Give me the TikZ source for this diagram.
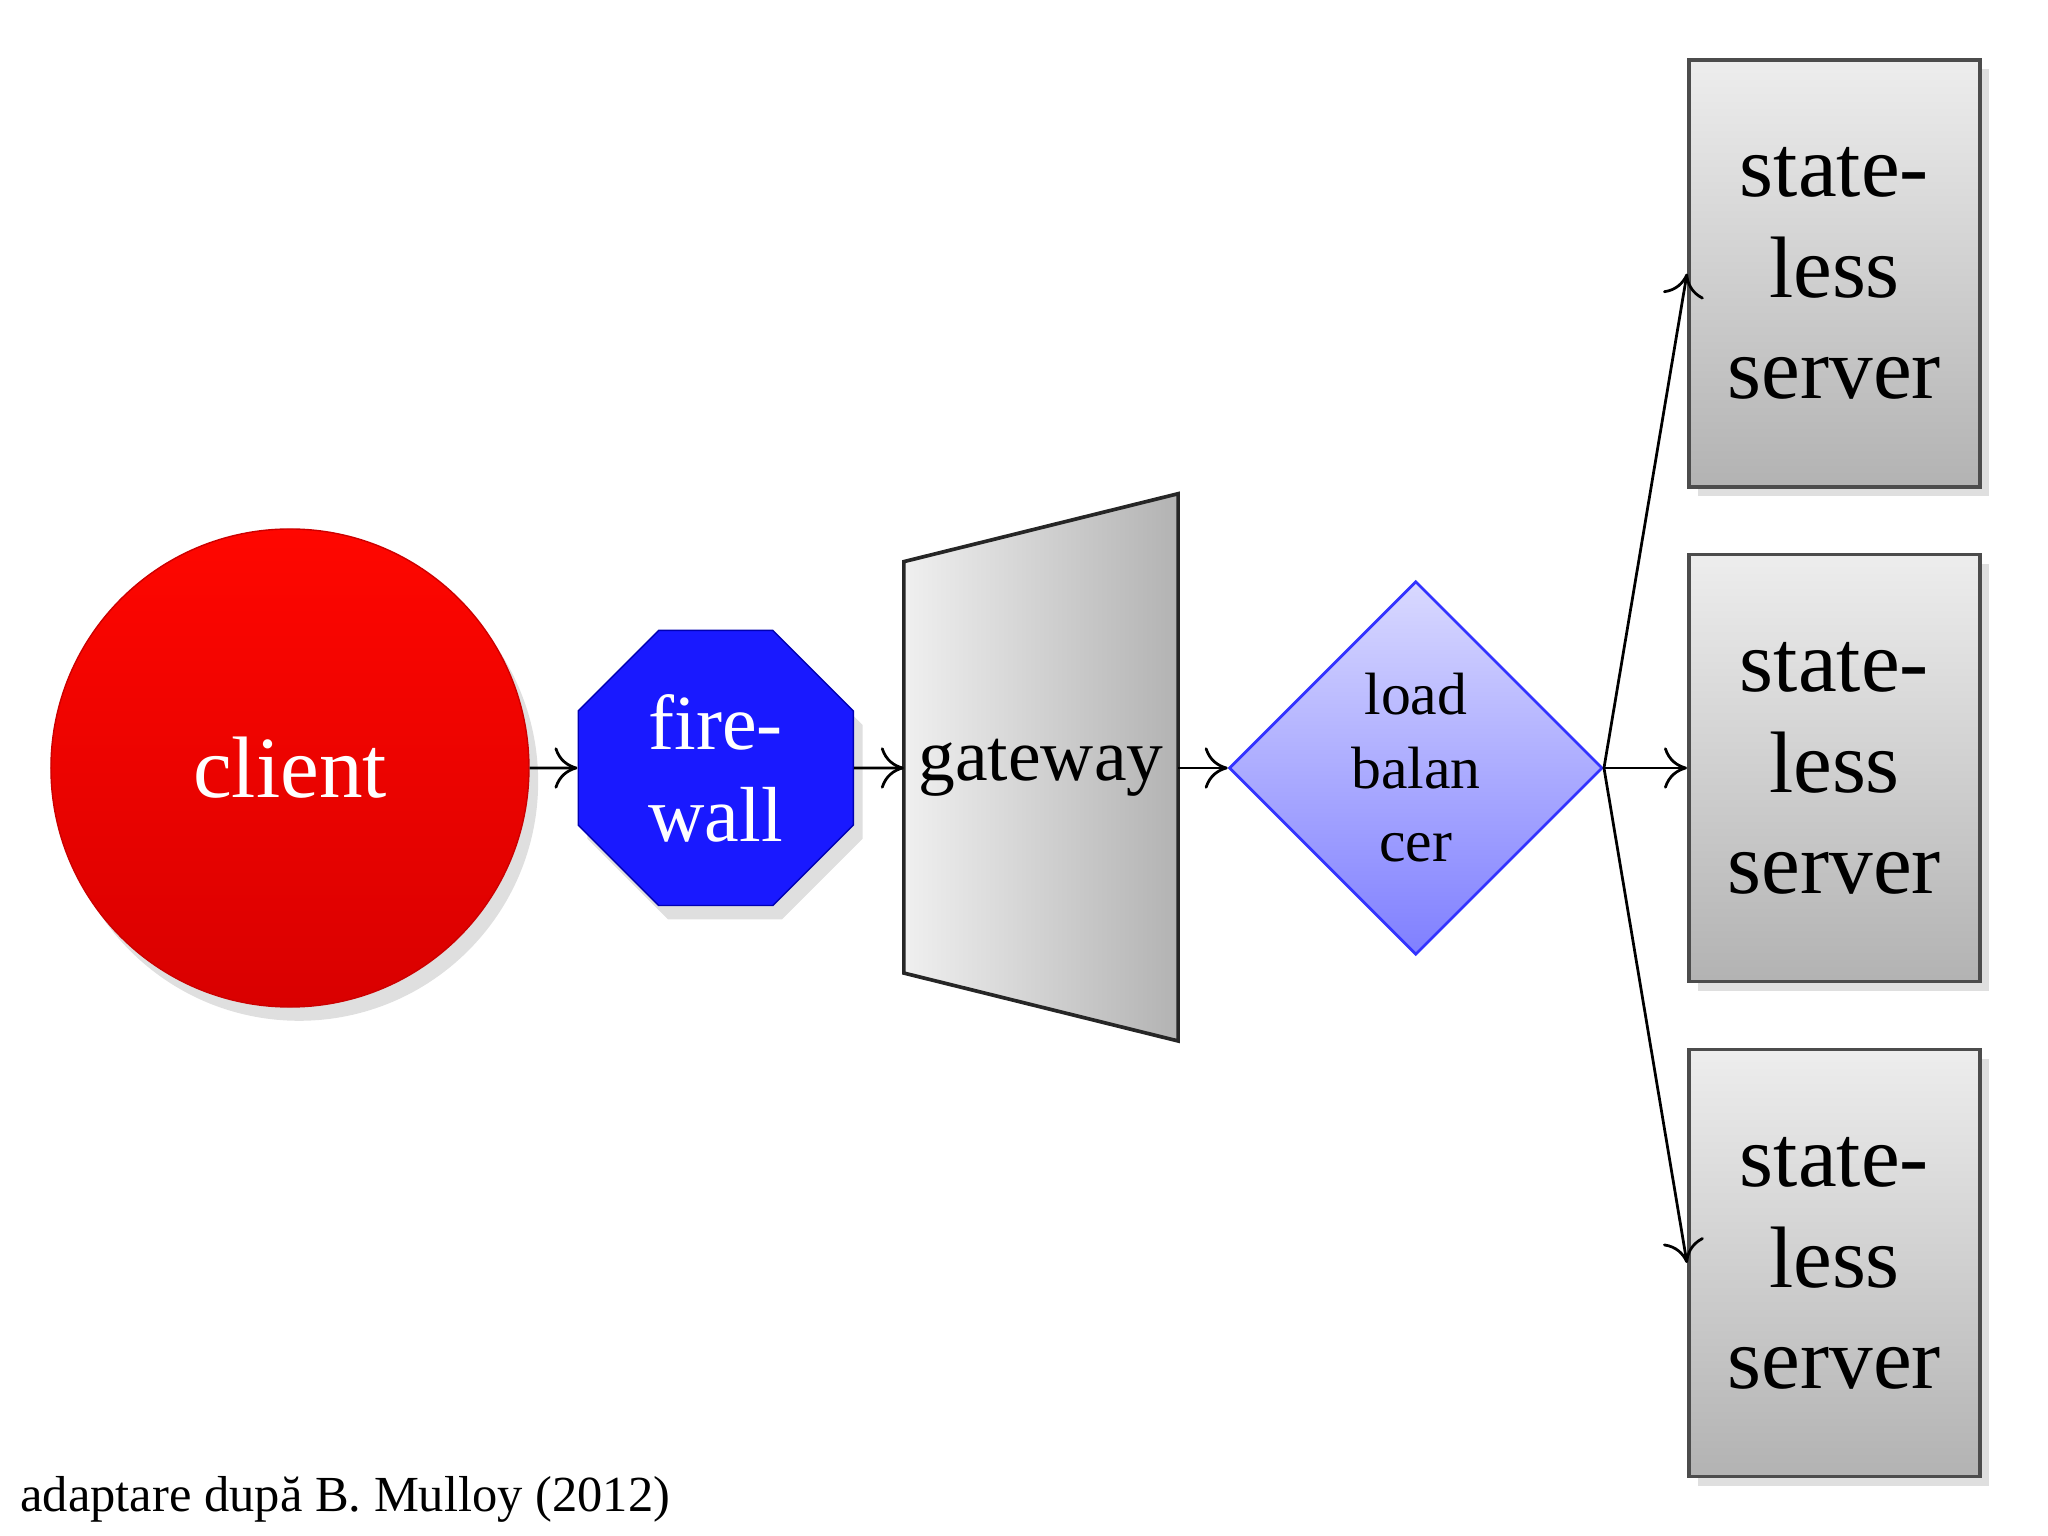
\documentclass[tikz,border=0pt]{standalone}
\usepackage{fontspec}
\setmainfont{Liberation Serif}
\usetikzlibrary{shapes.geometric,arrows.meta,shadows}
\begin{document}
\begin{tikzpicture}[x=0.01cm,y=-0.01cm,
  arr/.style={-{To[length=5pt,width=9pt]},line width=0.6pt},
  server/.style={draw=black!70,line width=0.8pt,top color=black!7,bottom color=black!30,
     minimum width=223*0.01cm,minimum height=327*0.01cm,inner sep=0pt,align=center,
     font=\fontsize{19}{22}\selectfont,drop shadow={opacity=0.25,shadow xshift=2pt,shadow yshift=-2pt}}]
\useasboundingbox (0,0) rectangle (1568,1176);
\node[circle,minimum size=366*0.01cm,top color=red!95!orange,bottom color=red!85!black,
  draw=red!80!black,line width=0.3pt,text=white,font=\fontsize{19}{22}\selectfont,
  drop shadow={opacity=0.25,shadow xshift=2pt,shadow yshift=-3pt}] (client) at (222,588) {client};
\node[regular polygon,regular polygon sides=8,minimum size=228*0.01cm,inner sep=0pt,
  fill=blue!90!white,draw=blue!70!black,line width=0.3pt,text=white,align=center,
  font=\fontsize{17}{20}\selectfont,
  drop shadow={opacity=0.25,shadow xshift=2pt,shadow yshift=-3pt}] (fw) at (548,588) {fire-\\wall};
\shade[left color=black!6,right color=black!30,draw=black!85,line width=0.8pt]
  (692,430) -- (902,378) -- (902,797) -- (692,745) -- cycle;
\node[inner sep=0pt,font=\fontsize{16}{19}\selectfont] (gw) at (797,588) {gateway};
\coordinate (gwl) at (692,588);
\coordinate (gwr) at (902,588);
\node[diamond,minimum width=286*0.01cm,minimum height=286*0.01cm,inner sep=0pt,aspect=1,
  top color=blue!15,bottom color=blue!50,draw=blue!80,line width=0.6pt,align=center,
  font=\fontsize{13}{16}\selectfont] (lb) at (1084,588) {load\\balan\\cer};
\node[server] (s1) at (1404.5,209.5) {state-\\less\\server};
\node[server] (s2) at (1404.5,588) {state-\\less\\server};
\node[server] (s3) at (1404.5,967) {state-\\less\\server};
\draw[arr] (client.east) -- (fw.east -| fw.west);
\draw[arr] (fw.east) -- (gwl);
\draw[arr] (gwr) -- (lb.west);
\draw[arr] (lb.east) -- (s1.west);
\draw[arr] (lb.east) -- (s2.west);
\draw[arr] (lb.east) -- (s3.west);
\node[anchor=west,inner sep=0pt,font=\fontsize{11}{13}\selectfont] (cap) at (15,1148) {adaptare după B. Mulloy (2012)};
\end{tikzpicture}
\end{document}
